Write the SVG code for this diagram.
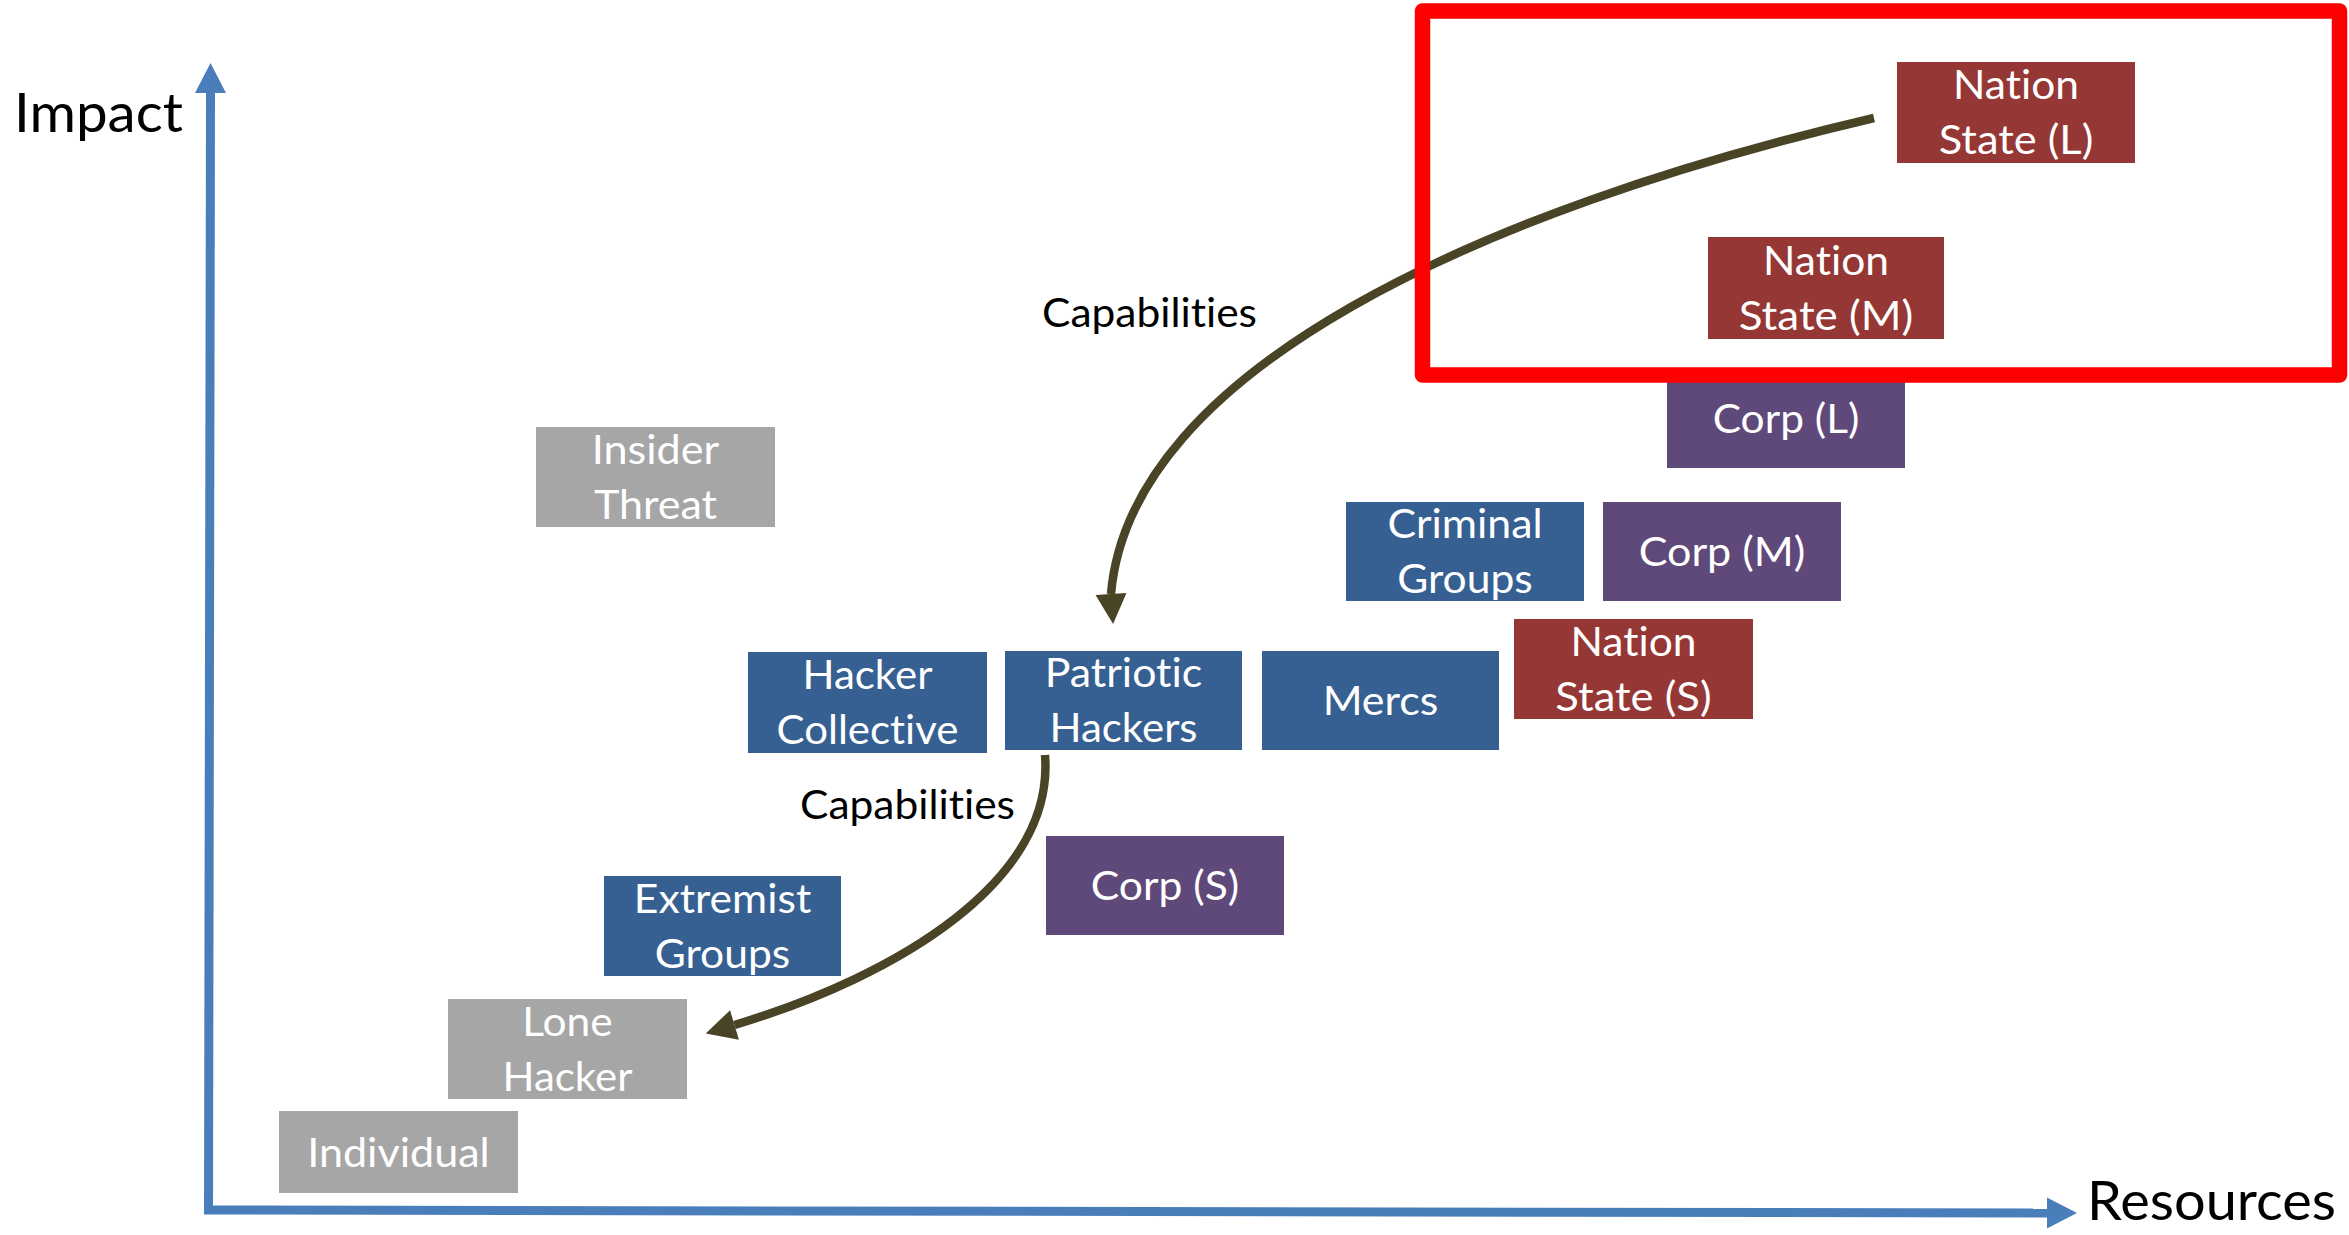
<svg xmlns="http://www.w3.org/2000/svg" width="2349" height="1235" viewBox="0 0 2349 1235">
  <style>
    text { font-family: Lato, "Liberation Sans", sans-serif; font-variant-ligatures: none; }
    .box { stroke: none; }
    .red { fill: #953735; }
    .blue { fill: #366092; }
    .purple { fill: #5F497A; }
    .gray { fill: #A6A6A6; }
    .lbl { font-size: 41.5px; fill: #FFFFFF; text-anchor: middle; }
    .axis-title { font-size: 54px; fill: #000000; }
    .cap { font-size: 41.5px; fill: #000000; }
    .axis { stroke: #4A7EBB; stroke-width: 9; fill: none; }
    .axis-head { fill: #4A7EBB; }
    .flow { stroke: #4A4427; stroke-width: 8.5; fill: none; }
    .flow-head { fill: #4A4427; }
  </style>
  <defs>
    <!-- arrowhead pointing along +x, base centred on the origin -->
    <path id="head" d="M0,-15.5 L30,0 L0,15.5 Z"/>
  </defs>

  <rect width="2349" height="1235" fill="#FFFFFF"/>

  <!-- axes -->
  <g id="axes">
    <line class="axis" x1="210.5" y1="92" x2="208.5" y2="1214"/>
    <line class="axis" x1="204" y1="1210" x2="2048" y2="1213"/>
    <use href="#head" class="axis-head" transform="translate(210.5,93) rotate(-90)"/>
    <use href="#head" class="axis-head" transform="translate(2047,1213)"/>
    <text class="axis-title" x="14" y="132" textLength="169" lengthAdjust="spacingAndGlyphs">Impact</text>
    <text class="axis-title" x="2087" y="1220" textLength="249" lengthAdjust="spacingAndGlyphs">Resources</text>
  </g>

  <!-- actor boxes -->
  <g id="nation-state-l">
    <rect class="box red" x="1897" y="62" width="238" height="101"/>
    <text class="lbl" x="2016" y="99" textLength="126" lengthAdjust="spacingAndGlyphs">Nation</text>
    <text class="lbl" x="2016" y="154" textLength="154.5" lengthAdjust="spacingAndGlyphs">State (L)</text>
  </g>
  <g id="nation-state-m">
    <rect class="box red" x="1708" y="237" width="236" height="102"/>
    <text class="lbl" x="1826" y="274.5" textLength="126" lengthAdjust="spacingAndGlyphs">Nation</text>
    <text class="lbl" x="1826" y="329.5" textLength="174.5" lengthAdjust="spacingAndGlyphs">State (M)</text>
  </g>
  <g id="corp-l">
    <rect class="box purple" x="1667" y="368" width="238" height="100"/>
    <text class="lbl" x="1786" y="432.5" textLength="146.6" lengthAdjust="spacingAndGlyphs">Corp (L)</text>
  </g>
  <g id="criminal-groups">
    <rect class="box blue" x="1346" y="502" width="238" height="99"/>
    <text class="lbl" x="1465" y="538" textLength="155" lengthAdjust="spacingAndGlyphs">Criminal</text>
    <text class="lbl" x="1465" y="593" textLength="135.6" lengthAdjust="spacingAndGlyphs">Groups</text>
  </g>
  <g id="corp-m">
    <rect class="box purple" x="1603" y="502" width="238" height="99"/>
    <text class="lbl" x="1722" y="566" textLength="166.6" lengthAdjust="spacingAndGlyphs">Corp (M)</text>
  </g>
  <g id="nation-state-s">
    <rect class="box red" x="1514" y="619" width="239" height="100"/>
    <text class="lbl" x="1633.5" y="655.5" textLength="126" lengthAdjust="spacingAndGlyphs">Nation</text>
    <text class="lbl" x="1633.5" y="710.5" textLength="156.3" lengthAdjust="spacingAndGlyphs">State (S)</text>
  </g>
  <g id="mercs">
    <rect class="box blue" x="1262" y="651" width="237" height="99"/>
    <text class="lbl" x="1380.5" y="715" textLength="115.7" lengthAdjust="spacingAndGlyphs">Mercs</text>
  </g>
  <g id="patriotic-hackers">
    <rect class="box blue" x="1005" y="651" width="237" height="99"/>
    <text class="lbl" x="1123.5" y="687" textLength="157.5" lengthAdjust="spacingAndGlyphs">Patriotic</text>
    <text class="lbl" x="1123.5" y="742" textLength="148" lengthAdjust="spacingAndGlyphs">Hackers</text>
  </g>
  <g id="hacker-collective">
    <rect class="box blue" x="748" y="652" width="239" height="101"/>
    <text class="lbl" x="867.5" y="689" textLength="130" lengthAdjust="spacingAndGlyphs">Hacker</text>
    <text class="lbl" x="867.5" y="744" textLength="181.8" lengthAdjust="spacingAndGlyphs">Collective</text>
  </g>
  <g id="insider-threat">
    <rect class="box gray" x="536" y="427" width="239" height="100"/>
    <text class="lbl" x="655.5" y="463.5" textLength="127.4" lengthAdjust="spacingAndGlyphs">Insider</text>
    <text class="lbl" x="655.5" y="518.5" textLength="123" lengthAdjust="spacingAndGlyphs">Threat</text>
  </g>
  <g id="corp-s">
    <rect class="box purple" x="1046" y="836" width="238" height="99"/>
    <text class="lbl" x="1165" y="900" textLength="148.4" lengthAdjust="spacingAndGlyphs">Corp (S)</text>
  </g>
  <g id="extremist-groups">
    <rect class="box blue" x="604" y="876" width="237" height="100"/>
    <text class="lbl" x="722.5" y="912.5" textLength="177.4" lengthAdjust="spacingAndGlyphs">Extremist</text>
    <text class="lbl" x="722.5" y="967.5" textLength="135.6" lengthAdjust="spacingAndGlyphs">Groups</text>
  </g>
  <g id="lone-hacker">
    <rect class="box gray" x="448" y="999" width="239" height="100"/>
    <text class="lbl" x="567.5" y="1035.5" textLength="90.6" lengthAdjust="spacingAndGlyphs">Lone</text>
    <text class="lbl" x="567.5" y="1090.5" textLength="130" lengthAdjust="spacingAndGlyphs">Hacker</text>
  </g>
  <g id="individual">
    <rect class="box gray" x="279" y="1111" width="239" height="82"/>
    <text class="lbl" x="398.5" y="1166.5" textLength="182.6" lengthAdjust="spacingAndGlyphs">Individual</text>
  </g>

  <!-- capability arrows -->
  <g id="connectors">
    <path class="flow" d="M1874,118 C1480,210 1130,370 1111,594"/>
    <use href="#head" class="flow-head" transform="translate(1111,594) rotate(86)"/>
    <text class="cap" x="1042" y="327" textLength="215" lengthAdjust="spacingAndGlyphs">Capabilities</text>

    <path class="flow" d="M1045,755 C1055,880 900,975 734.5,1025"/>
    <use href="#head" class="flow-head" transform="translate(734.5,1025) rotate(163.4)"/>
    <text class="cap" x="800" y="819" textLength="215" lengthAdjust="spacingAndGlyphs">Capabilities</text>
  </g>

  <!-- highlight frame around the largest state actors -->
  <g id="highlight">
    <rect x="1422.5" y="11" width="917" height="364" fill="none" stroke="#FF0000" stroke-width="15.5" stroke-linejoin="round"/>
  </g>
</svg>
